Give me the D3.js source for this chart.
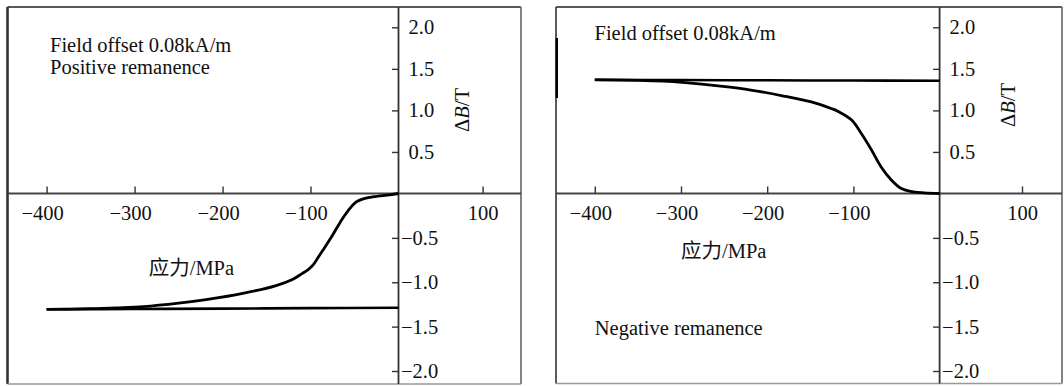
<!DOCTYPE html>
<html>
<head>
<meta charset="utf-8">
<script src="https://cdn.jsdelivr.net/npm/d3@7"></script>
<style>
  html, body { margin: 0; padding: 0; background: #fff; }
  svg { display: block; }
</style>
</head>
<body>
<svg id="chart" width="1064" height="386"></svg>
<script>
// ---------------- data ----------------
const xTickValues = [-400, -300, -200, -100, 100];
const yTickValues = [2.0, 1.5, 1.0, 0.5, -0.5, -1.0, -1.5, -2.0];

// Left panel (positive remanence)
const leftFlatStress = [-400, -300, -200, -100, 0];
const leftFlatB      = [-1.305, -1.301, -1.297, -1.292, -1.288];
const leftCurveStress = [-400, -350, -320, -290, -250, -215, -177, -140, -120, -110, -103, -97, -92, -86, -75, -66, -57, -48, -40, -28, -10, 0];
const leftCurveB      = [-1.305, -1.298, -1.288, -1.274, -1.235, -1.19, -1.125, -1.04, -0.965, -0.905, -0.86, -0.805, -0.73, -0.64, -0.47, -0.32, -0.19, -0.095, -0.06, -0.036, -0.015, 0];

// Right panel (negative remanence)
const rightFlatStress = [-400, -300, -200, -100, 0];
const rightFlatB      = [1.368, 1.365, 1.362, 1.359, 1.357];
const rightCurveStress = [-400, -350, -320, -295, -257, -219, -181, -143, -125, -117, -102, -91, -79, -68, -56, -45, -34, -18, 0];
const rightCurveB      = [1.368, 1.362, 1.352, 1.333, 1.294, 1.245, 1.173, 1.085, 1.02, 0.984, 0.884, 0.724, 0.523, 0.322, 0.162, 0.063, 0.025, 0.008, 0];

const texts = {
  left:  ["Field offset 0.08kA/m", "Positive remanence"],
  right: ["Field offset 0.08kA/m", "Negative remanence"],
  xLabel: "应力/MPa"
};

// ---------------- drawing ----------------
const svg = d3.select("#chart");
const FS = 20.5;
const FONT = "'Liberation Serif', 'Times New Roman', 'Noto Sans CJK SC', serif";

function styleText(sel) {
  return sel.style("font-family", FONT).style("font-size", FS + "px").style("fill", "#111");
}

function drawPanel(p) {
  const g = svg.append("g");
  const x = d3.scaleLinear().domain([-400, 0, 100]).range(p.xr);
  const y = d3.scaleLinear().domain([-2, 0, 2]).range([371, 193.5, 27.3]);

  // frame
  g.append("line").attr("x1", p.fx0).attr("x2", p.fx1).attr("y1", 7).attr("y2", 7)
    .attr("stroke", "#222").attr("stroke-width", 1.6);
  g.append("line").attr("x1", p.fx0).attr("x2", p.fx0).attr("y1", 7).attr("y2", p.fy1)
    .attr("stroke", "#333").attr("stroke-width", p.leftW);
  g.append("line").attr("x1", p.fx1).attr("x2", p.fx1).attr("y1", 7).attr("y2", p.fy1)
    .attr("stroke", "#777").attr("stroke-width", 1.8);
  g.append("line").attr("x1", p.fx0).attr("x2", p.fx1).attr("y1", p.fy1).attr("y2", p.fy1)
    .attr("stroke", "#999").attr("stroke-width", 1.6);
  if (p.mark) {
    g.append("line").attr("x1", p.fx0 + 0.8).attr("x2", p.fx0 + 0.8).attr("y1", 38).attr("y2", 98)
      .attr("stroke", "#000").attr("stroke-width", 2.4);
  }

  // axis lines through origin
  g.append("line").attr("x1", p.fx0).attr("x2", p.fx1).attr("y1", y(0)).attr("y2", y(0))
    .attr("stroke", "#444").attr("stroke-width", 2);
  g.append("line").attr("x1", x(0)).attr("x2", x(0)).attr("y1", 7).attr("y2", p.fy1)
    .attr("stroke", "#333").attr("stroke-width", 1.8);

  // x axis ticks & labels
  const xAxis = d3.axisBottom(x).tickValues(xTickValues).tickSize(-7).tickSizeOuter(0)
    .tickPadding(12).tickFormat(d3.format("d"));
  const gx = g.append("g").attr("transform", `translate(0,${y(0)})`).call(xAxis)
    .attr("font-family", null).attr("font-size", null);
  gx.select(".domain").remove();
  gx.selectAll(".tick line").attr("stroke", "#333").attr("stroke-width", 1.4);
  styleText(gx.selectAll(".tick text")).attr("dx", d => d < 0 ? -4.5 : 0);

  // y axis ticks & labels
  const yAxis = d3.axisRight(y).tickValues(yTickValues).tickSize(-6.5).tickSizeOuter(0)
    .tickPadding(10).tickFormat(d3.format(".1f"));
  const gy = g.append("g").attr("transform", `translate(${x(0)},0)`).call(yAxis)
    .attr("font-family", null).attr("font-size", null);
  gy.select(".domain").remove();
  gy.selectAll(".tick line").attr("stroke", "#333").attr("stroke-width", 1.4);
  styleText(gy.selectAll(".tick text")).attr("x", d => d < 0 ? 2.5 : 10);

  // y axis title
  const yt = styleText(g.append("text"))
    .attr("transform", `translate(${p.ytx},${p.yty}) rotate(-90)`)
    .attr("text-anchor", "middle").attr("dy", "0.35em");
  yt.append("tspan").text("Δ");
  yt.append("tspan").style("font-style", "italic").text("B");
  yt.append("tspan").text("/T");

  // x axis title
  styleText(g.append("text")).attr("x", p.xlx).attr("y", p.xly).text(texts.xLabel);

  // annotations
  p.notes.forEach(n => {
    styleText(g.append("text")).attr("x", n.x).attr("y", n.y).text(n.t);
  });

  // curves
  const line = d3.line().x(d => x(d[0])).y(d => y(d[1])).curve(d3.curveCatmullRom.alpha(0.5));
  g.append("path").datum(d3.zip(p.flatS, p.flatB)).attr("d", line)
    .attr("fill", "none").attr("stroke", "#000").attr("stroke-width", 2.6);
  g.append("path").datum(d3.zip(p.curveS, p.curveB)).attr("d", line)
    .attr("fill", "none").attr("stroke", "#000").attr("stroke-width", 2.8)
    .attr("stroke-linejoin", "round");
}

drawPanel({
  xr: [46.6, 398.5, 482.6], fx0: 7.5, fx1: 521, fy1: 384, leftW: 2.6, mark: false,
  ytx: 461.5, yty: 110, xlx: 148.7, xly: 275,
  notes: [{x: 50, y: 52, t: texts.left[0]}, {x: 50, y: 74, t: texts.left[1]}],
  flatS: leftFlatStress, flatB: leftFlatB, curveS: leftCurveStress, curveB: leftCurveB
});

drawPanel({
  xr: [594.8, 939.6, 1022], fx0: 556, fx1: 1062, fy1: 383.5, leftW: 1.6, mark: true,
  ytx: 1008, yty: 105, xlx: 681, xly: 258,
  notes: [{x: 594.5, y: 39.5, t: texts.right[0]}, {x: 594.8, y: 335, t: texts.right[1]}],
  flatS: rightFlatStress, flatB: rightFlatB, curveS: rightCurveStress, curveB: rightCurveB
});
</script>
</body>
</html>
